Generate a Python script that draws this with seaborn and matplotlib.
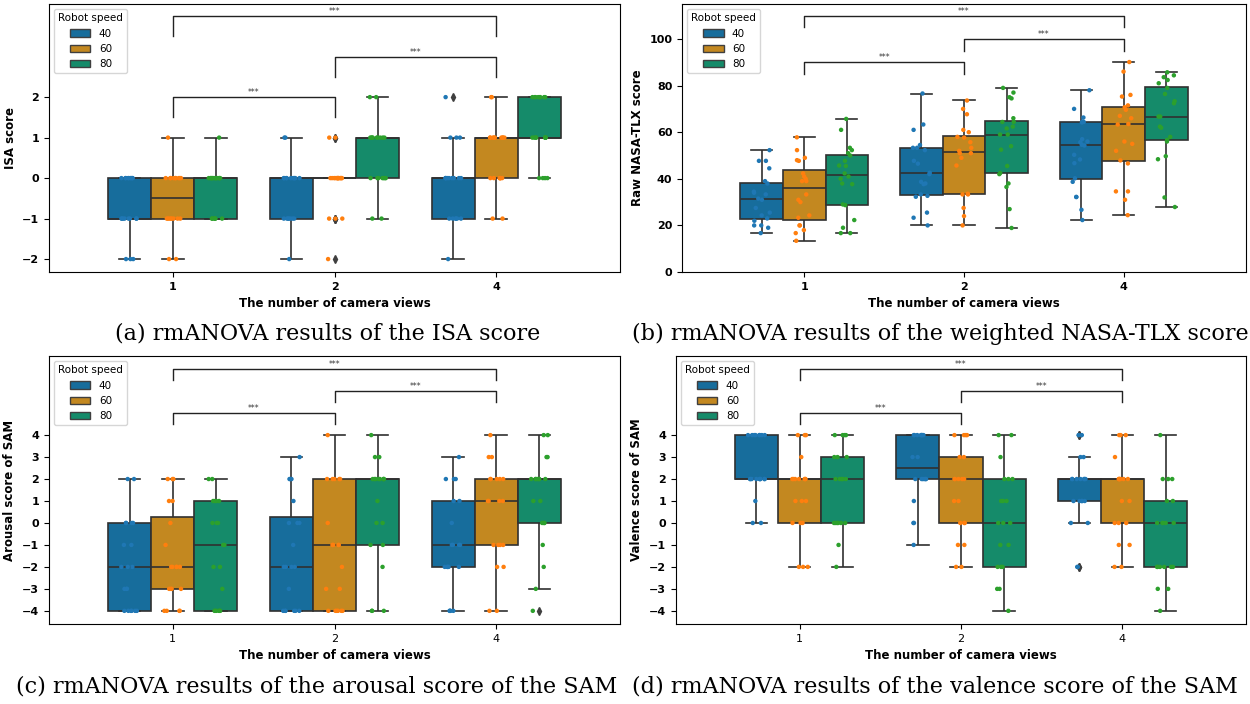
import numpy as np
import pandas as pd
import seaborn as sns
import matplotlib.pyplot as plt
from matplotlib.patches import Patch

np.random.seed(3)

views = ['1', '2', '4']
speeds = ['40', '60', '80']

# ISA score, counts of each answer per (views, speed)
isa_counts = {
    ('1', '40'): {-2: 3, -1: 8, 0: 9},
    ('1', '60'): {-2: 2, -1: 8, 0: 9, 1: 1},
    ('1', '80'): {-1: 6, 0: 13, 1: 1},
    ('2', '40'): {-2: 1, -1: 7, 0: 10, 1: 2},
    ('2', '60'): {-2: 1, -1: 3, 0: 14, 1: 2},
    ('2', '80'): {-1: 2, 0: 7, 1: 9, 2: 2},
    ('4', '40'): {-2: 1, -1: 6, 0: 9, 1: 3, 2: 1},
    ('4', '60'): {-1: 2, 0: 7, 1: 9, 2: 2},
    ('4', '80'): {0: 4, 1: 8, 2: 8},
}

# Raw NASA-TLX score per (views, speed)
tlx_values = {
    ('1', '40'): [52.3, 47.7, 47.7, 44.5, 39.0, 38.0, 34.5, 34.0, 33.3, 31.5,
                  31.0, 27.5, 25.5, 24.3, 23.0, 22.0, 20.0, 20.0, 19.0, 16.7],
    ('1', '60'): [57.8, 52.3, 49.0, 48.0, 47.7, 42.3, 41.0, 40.0, 39.0, 39.0,
                  33.3, 31.0, 30.0, 24.3, 23.3, 20.0, 20.0, 18.0, 16.7, 13.4],
    ('1', '80'): [65.7, 61.0, 53.3, 52.3, 51.0, 50.0, 47.7, 45.7, 45.5, 42.3,
                  41.0, 40.0, 38.0, 37.7, 29.0, 28.7, 22.3, 19.0, 16.7, 16.7],
    ('2', '40'): [76.6, 63.3, 61.0, 54.5, 53.3, 53.3, 52.3, 47.7, 46.5, 42.6,
                  42.0, 38.7, 38.0, 37.7, 33.3, 32.7, 32.3, 25.5, 23.3, 20.0],
    ('2', '60'): [73.6, 70.0, 67.7, 61.0, 60.0, 58.0, 57.7, 55.7, 53.3, 52.0,
                  51.0, 51.0, 49.0, 45.7, 33.6, 33.3, 33.3, 27.5, 24.0, 20.0],
    ('2', '80'): [79.0, 77.0, 75.0, 74.5, 66.0, 64.4, 64.4, 62.4, 61.6, 59.0,
                  59.0, 54.0, 52.5, 45.5, 42.5, 42.0, 38.0, 36.5, 27.0, 18.9],
    ('4', '40'): [78.0, 70.0, 66.3, 64.6, 64.4, 64.2, 57.0, 56.0, 55.7, 54.6,
                  54.3, 50.3, 48.3, 46.7, 40.2, 38.7, 32.2, 32.2, 26.7, 22.3],
    ('4', '60'): [90.1, 86.0, 76.0, 75.3, 71.5, 70.7, 69.6, 67.0, 66.0, 63.5,
                  63.3, 56.0, 55.0, 52.0, 47.9, 46.6, 34.6, 34.6, 31.0, 24.4],
    ('4', '80'): [85.7, 84.4, 83.6, 82.4, 81.0, 79.0, 76.4, 73.3, 72.4, 66.7,
                  66.7, 62.4, 61.9, 58.0, 56.7, 56.0, 49.7, 48.4, 32.0, 27.9],
}

# SAM arousal score counts
arousal_counts = {
    ('1', '40'): {-4: 6, -3: 3, -2: 3, -1: 2, 0: 4, 2: 2},
    ('1', '60'): {-4: 4, -3: 4, -2: 5, -1: 1, 0: 1, 1: 2, 2: 3},
    ('1', '80'): {-4: 6, -3: 1, -2: 2, -1: 2, 0: 3, 1: 4, 2: 2},
    ('2', '40'): {-4: 6, -3: 1, -2: 4, -1: 1, 0: 3, 1: 1, 2: 3, 3: 1},
    ('2', '60'): {-4: 6, -3: 2, -2: 1, -1: 4, 0: 1, 2: 5, 4: 1},
    ('2', '80'): {-4: 3, -2: 1, -1: 2, 0: 2, 1: 1, 2: 8, 3: 2, 4: 1},
    ('4', '40'): {-4: 4, -2: 5, -1: 4, 0: 1, 1: 2, 2: 3, 3: 1},
    ('4', '60'): {-4: 2, -2: 2, -1: 4, 1: 4, 2: 5, 3: 2, 4: 1},
    ('4', '80'): {-4: 1, -3: 1, -2: 1, -1: 1, 0: 3, 1: 2, 2: 7, 3: 2, 4: 2},
}

# SAM valence score counts
valence_counts = {
    ('1', '40'): {0: 2, 1: 1, 2: 9, 4: 8},
    ('1', '60'): {-2: 3, 0: 3, 1: 3, 2: 7, 3: 1, 4: 3},
    ('1', '80'): {-2: 1, -1: 1, 0: 6, 2: 5, 3: 3, 4: 4},
    ('2', '40'): {-1: 1, 0: 2, 1: 1, 2: 6, 3: 2, 4: 8},
    ('2', '60'): {-2: 2, -1: 2, 0: 3, 1: 2, 2: 5, 3: 2, 4: 4},
    ('2', '80'): {-4: 1, -3: 2, -2: 3, -1: 2, 0: 3, 1: 3, 2: 3, 3: 1, 4: 2},
    ('4', '40'): {-2: 2, 0: 2, 1: 5, 2: 7, 3: 2, 4: 2},
    ('4', '60'): {-2: 2, -1: 2, 0: 3, 1: 2, 2: 7, 3: 1, 4: 3},
    ('4', '80'): {-4: 1, -3: 2, -2: 6, 0: 5, 1: 2, 2: 3, 4: 1},
}

# significance brackets: (from, to, height)
isa_brackets = [(0, 1, 2.0), (1, 2, 3.0), (0, 2, 4.0)]
tlx_brackets = [(0, 1, 90), (1, 2, 100), (0, 2, 110)]
sam_brackets = [(0, 1, 5.0), (1, 2, 6.0), (0, 2, 7.0)]


def to_frame(groups):
    rows = []
    for (v, s), vals in groups.items():
        if isinstance(vals, dict):
            vals = np.repeat(list(vals.keys()), list(vals.values()))
        for val in vals:
            rows.append({'views': v, 'speed': s, 'score': val})
    return pd.DataFrame(rows)


box_colors = sns.color_palette('colorblind', 3, desat=0.75)
dot_colors = ['#1f77b4', '#ff7f0e', '#2ca02c']


def panel(ax, df, ylabel, ylim, yticks, brackets, h, bold_x):
    sns.boxplot(data=df, x='views', y='score', hue='speed', order=views,
                hue_order=speeds, palette=box_colors, saturation=1,
                linewidth=1.2, legend=False, ax=ax,
                flierprops=dict(marker='d', markersize=4,
                                markerfacecolor='#3f3f3f',
                                markeredgecolor='#3f3f3f'))
    sns.stripplot(data=df, x='views', y='score', hue='speed', order=views,
                  hue_order=speeds, palette=dot_colors, dodge=True,
                  jitter=0.16, size=3.2, legend=False, ax=ax, zorder=3)
    for x1, x2, y in brackets:
        ax.plot([x1, x1, x2, x2], [y - h, y, y, y - h], lw=1, c='#222222')
        ax.text((x1 + x2) / 2, y, '***', ha='center', va='bottom',
                fontsize=5.5, color='#333333')
    ax.set_xlim(-0.765, 2.765)
    ax.set_ylim(*ylim)
    ax.set_yticks(yticks)
    ax.set_xlabel('The number of camera views', fontsize=8.5,
                  fontweight='bold')
    ax.set_ylabel(ylabel, fontsize=8.5, fontweight='bold')
    ax.tick_params(labelsize=8)
    for t in ax.get_yticklabels():
        t.set_fontweight('bold')
    if bold_x:
        for t in ax.get_xticklabels():
            t.set_fontweight('bold')
    handles = [Patch(facecolor=c, edgecolor='#3f3f3f', label=s)
               for c, s in zip(box_colors, speeds)]
    ax.legend(handles=handles, title='Robot speed', loc='upper left',
              fontsize=7.5, title_fontsize=7.5)


fig = plt.figure(figsize=(12.5, 7.04), dpi=100)
ax_a = fig.add_axes([0.0392, 0.6136, 0.4568, 0.3807])
ax_b = fig.add_axes([0.5456, 0.6136, 0.4512, 0.3807])
ax_c = fig.add_axes([0.0392, 0.1136, 0.4568, 0.3807])
ax_d = fig.add_axes([0.5408, 0.1136, 0.4560, 0.3807])

panel(ax_a, to_frame(isa_counts), 'ISA score', (-2.32, 4.3),
      [-2, -1, 0, 1, 2], isa_brackets, 0.5, True)
panel(ax_b, to_frame(tlx_values), 'Raw NASA-TLX score', (0, 115),
      [0, 20, 40, 60, 80, 100], tlx_brackets, 5, True)
panel(ax_c, to_frame(arousal_counts), 'Arousal score of SAM', (-4.6, 7.6),
      list(range(-4, 5)), sam_brackets, 0.5, False)
panel(ax_d, to_frame(valence_counts), 'Valence score of SAM', (-4.6, 7.6),
      list(range(-4, 5)), sam_brackets, 0.5, False)

cap = dict(ha='center', va='center', fontsize=16, family='DejaVu Serif')
fig.text(0.262, 1 - 334 / 704, '(a) rmANOVA results of the ISA score', **cap)
fig.text(0.752, 1 - 334 / 704,
         '(b) rmANOVA results of the weighted NASA-TLX score', **cap)
fig.text(0.253, 1 - 687 / 704,
         '(c) rmANOVA results of the arousal score of the SAM', **cap)
fig.text(0.748, 1 - 687 / 704,
         '(d) rmANOVA results of the valence score of the SAM', **cap)

fig.savefig('out.png', dpi=100)
